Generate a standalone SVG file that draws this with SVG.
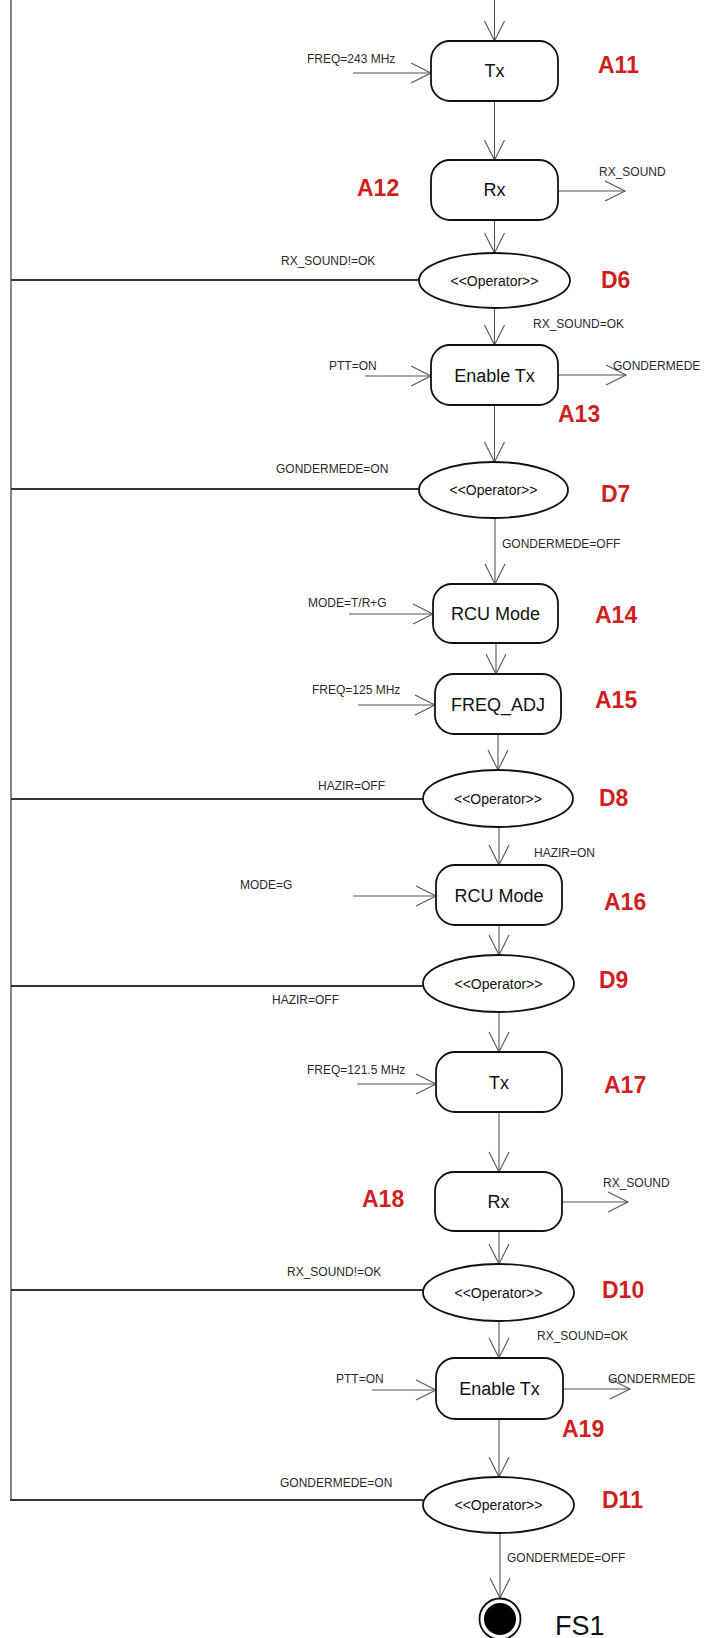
<svg xmlns="http://www.w3.org/2000/svg" width="706" height="1638" viewBox="0 0 706 1638">
<style>
.box{fill:#fff;stroke:#111;stroke-width:1.8}
.dec{fill:#fff;stroke:#111;stroke-width:1.8}
.c{fill:none;stroke:#555;stroke-width:1.1}
.loop{fill:none;stroke:#333;stroke-width:1.8}
.lbl{font-family:"Liberation Sans",Arial,sans-serif;font-size:12px;fill:#2a2a2a}
.nt{font-family:"Liberation Sans",Arial,sans-serif;font-size:18px;fill:#111;text-anchor:middle}
.op{font-family:"Liberation Sans",Arial,sans-serif;font-size:14px;fill:#111;text-anchor:middle}
.red{font-family:"Liberation Sans",Arial,sans-serif;font-size:23px;font-weight:bold;fill:#d11f1f}
</style>
<defs>
<marker id="ah" markerUnits="userSpaceOnUse" markerWidth="24" markerHeight="24" viewBox="-22 -12 24 24" refX="0" refY="0" orient="auto">
<path d="M-20,-10 L0,0 L-20,10" fill="none" stroke="#555" stroke-width="1.1"/>
</marker>
</defs>
<g id="connectors">
<line class="loop" x1="11" y1="0" x2="11" y2="1500" style="stroke:#666;stroke-width:1.6"/>
<line class="loop" x1="11" y1="280" x2="419" y2="280"/>
<line class="loop" x1="11" y1="489" x2="419" y2="489"/>
<line class="loop" x1="11" y1="799" x2="423" y2="799"/>
<line class="loop" x1="11" y1="986" x2="423" y2="986"/>
<line class="loop" x1="11" y1="1290" x2="423" y2="1290"/>
<line class="loop" x1="10" y1="1500" x2="423" y2="1500"/>
<line class="c" x1="494.5" y1="0" x2="494.5" y2="41" marker-end="url(#ah)"/>
<line class="c" x1="494.5" y1="101" x2="494.5" y2="160" marker-end="url(#ah)"/>
<line class="c" x1="494.5" y1="220" x2="494.5" y2="253" marker-end="url(#ah)"/>
<line class="c" x1="494.5" y1="308" x2="494.5" y2="345" marker-end="url(#ah)"/>
<line class="c" x1="494.5" y1="405" x2="494.5" y2="462" marker-end="url(#ah)"/>
<line class="c" x1="495" y1="518" x2="495" y2="584" marker-end="url(#ah)"/>
<line class="c" x1="496" y1="643" x2="496" y2="674" marker-end="url(#ah)"/>
<line class="c" x1="498" y1="734" x2="498" y2="770" marker-end="url(#ah)"/>
<line class="c" x1="499" y1="827" x2="499" y2="865" marker-end="url(#ah)"/>
<line class="c" x1="499" y1="925" x2="499" y2="955" marker-end="url(#ah)"/>
<line class="c" x1="499" y1="1012" x2="499" y2="1052" marker-end="url(#ah)"/>
<line class="c" x1="499" y1="1112" x2="499" y2="1172" marker-end="url(#ah)"/>
<line class="c" x1="499" y1="1231" x2="499" y2="1264" marker-end="url(#ah)"/>
<line class="c" x1="499" y1="1321" x2="499" y2="1358" marker-end="url(#ah)"/>
<line class="c" x1="499" y1="1419" x2="499" y2="1477" marker-end="url(#ah)"/>
<line class="c" x1="500" y1="1533" x2="500" y2="1598" marker-end="url(#ah)"/>
<line class="c" x1="353" y1="73" x2="431" y2="73" marker-end="url(#ah)"/>
<line class="c" x1="365" y1="376" x2="431" y2="376" marker-end="url(#ah)"/>
<line class="c" x1="349" y1="614" x2="433" y2="614" marker-end="url(#ah)"/>
<line class="c" x1="358" y1="705" x2="435" y2="705" marker-end="url(#ah)"/>
<line class="c" x1="353" y1="896" x2="436" y2="896" marker-end="url(#ah)"/>
<line class="c" x1="357" y1="1084" x2="436" y2="1084" marker-end="url(#ah)"/>
<line class="c" x1="372" y1="1390" x2="436" y2="1390" marker-end="url(#ah)"/>
<line class="c" x1="558" y1="191" x2="625" y2="191" marker-end="url(#ah)"/>
<line class="c" x1="558" y1="375" x2="626" y2="375" marker-end="url(#ah)"/>
<line class="c" x1="562" y1="1202" x2="628" y2="1202" marker-end="url(#ah)"/>
<line class="c" x1="563" y1="1389" x2="630" y2="1389" marker-end="url(#ah)"/>
<text class="lbl" x="307" y="63">FREQ=243 MHz</text>
<text class="lbl" x="599" y="176">RX_SOUND</text>
<text class="lbl" x="281" y="265">RX_SOUND!=OK</text>
<text class="lbl" x="533" y="328">RX_SOUND=OK</text>
<text class="lbl" x="329" y="370">PTT=ON</text>
<text class="lbl" x="613" y="370">GONDERMEDE</text>
<text class="lbl" x="276" y="473">GONDERMEDE=ON</text>
<text class="lbl" x="502" y="548">GONDERMEDE=OFF</text>
<text class="lbl" x="308" y="607">MODE=T/R+G</text>
<text class="lbl" x="312" y="694">FREQ=125 MHz</text>
<text class="lbl" x="318" y="790">HAZIR=OFF</text>
<text class="lbl" x="534" y="857">HAZIR=ON</text>
<text class="lbl" x="240" y="889">MODE=G</text>
<text class="lbl" x="272" y="1004">HAZIR=OFF</text>
<text class="lbl" x="307" y="1074">FREQ=121.5 MHz</text>
<text class="lbl" x="603" y="1187">RX_SOUND</text>
<text class="lbl" x="287" y="1276">RX_SOUND!=OK</text>
<text class="lbl" x="537" y="1340">RX_SOUND=OK</text>
<text class="lbl" x="336" y="1383">PTT=ON</text>
<text class="lbl" x="608" y="1383">GONDERMEDE</text>
<text class="lbl" x="280" y="1487">GONDERMEDE=ON</text>
<text class="lbl" x="507" y="1562">GONDERMEDE=OFF</text>
</g>
<g id="A11"><rect class="box" x="431" y="41" width="127" height="60" rx="19"/><text class="nt" x="494.5" y="77">Tx</text><text class="red" x="598" y="73">A11</text></g>
<g id="A12"><rect class="box" x="431" y="160" width="127" height="60" rx="19"/><text class="nt" x="494.5" y="196">Rx</text><text class="red" x="357" y="196">A12</text></g>
<g id="D6"><ellipse class="dec" cx="494.5" cy="280.5" rx="75.5" ry="27.5"/><text class="op" x="494.5" y="285.5">&lt;&lt;Operator&gt;&gt;</text><text class="red" x="601" y="288">D6</text></g>
<g id="A13"><rect class="box" x="431" y="345" width="127" height="60" rx="19"/><text class="nt" x="494.5" y="381.5">Enable Tx</text><text class="red" x="558" y="422">A13</text></g>
<g id="D7"><ellipse class="dec" cx="493.5" cy="490" rx="74.5" ry="28"/><text class="op" x="493.5" y="495">&lt;&lt;Operator&gt;&gt;</text><text class="red" x="601" y="502">D7</text></g>
<g id="A14"><rect class="box" x="433" y="584" width="125" height="59" rx="19"/><text class="nt" x="495.5" y="620">RCU Mode</text><text class="red" x="595" y="623">A14</text></g>
<g id="A15"><rect class="box" x="435" y="674" width="126" height="60" rx="19"/><text class="nt" x="498" y="710.5">FREQ_ADJ</text><text class="red" x="595" y="708">A15</text></g>
<g id="D8"><ellipse class="dec" cx="498" cy="798.5" rx="75" ry="28.5"/><text class="op" x="498" y="803.5">&lt;&lt;Operator&gt;&gt;</text><text class="red" x="599" y="806">D8</text></g>
<g id="A16"><rect class="box" x="436" y="865" width="126" height="60" rx="19"/><text class="nt" x="499" y="901.5">RCU Mode</text><text class="red" x="604" y="910">A16</text></g>
<g id="D9"><ellipse class="dec" cx="498.5" cy="983.5" rx="75.5" ry="28.5"/><text class="op" x="498.5" y="988.5">&lt;&lt;Operator&gt;&gt;</text><text class="red" x="599" y="988">D9</text></g>
<g id="A17"><rect class="box" x="436" y="1052" width="126" height="60" rx="19"/><text class="nt" x="499" y="1088.5">Tx</text><text class="red" x="604" y="1093">A17</text></g>
<g id="A18"><rect class="box" x="435" y="1172" width="127" height="59" rx="19"/><text class="nt" x="498.5" y="1208">Rx</text><text class="red" x="362" y="1207">A18</text></g>
<g id="D10"><ellipse class="dec" cx="498.5" cy="1292.5" rx="75.5" ry="28.5"/><text class="op" x="498.5" y="1297.5">&lt;&lt;Operator&gt;&gt;</text><text class="red" x="602" y="1298">D10</text></g>
<g id="A19"><rect class="box" x="436" y="1358" width="127" height="61" rx="19"/><text class="nt" x="499.5" y="1395">Enable Tx</text><text class="red" x="562" y="1437">A19</text></g>
<g id="D11"><ellipse class="dec" cx="498.5" cy="1505" rx="75.5" ry="28"/><text class="op" x="498.5" y="1510">&lt;&lt;Operator&gt;&gt;</text><text class="red" x="602" y="1508">D11</text></g>
<g id="FS1"><circle cx="500" cy="1619" r="20.5" fill="#fff" stroke="#111" stroke-width="1.8"/><circle cx="500" cy="1619" r="16" fill="#000"/><text x="555" y="1635" style="font-family:'Liberation Sans',Arial,sans-serif;font-size:27px;fill:#111">FS1</text></g>
</svg>
